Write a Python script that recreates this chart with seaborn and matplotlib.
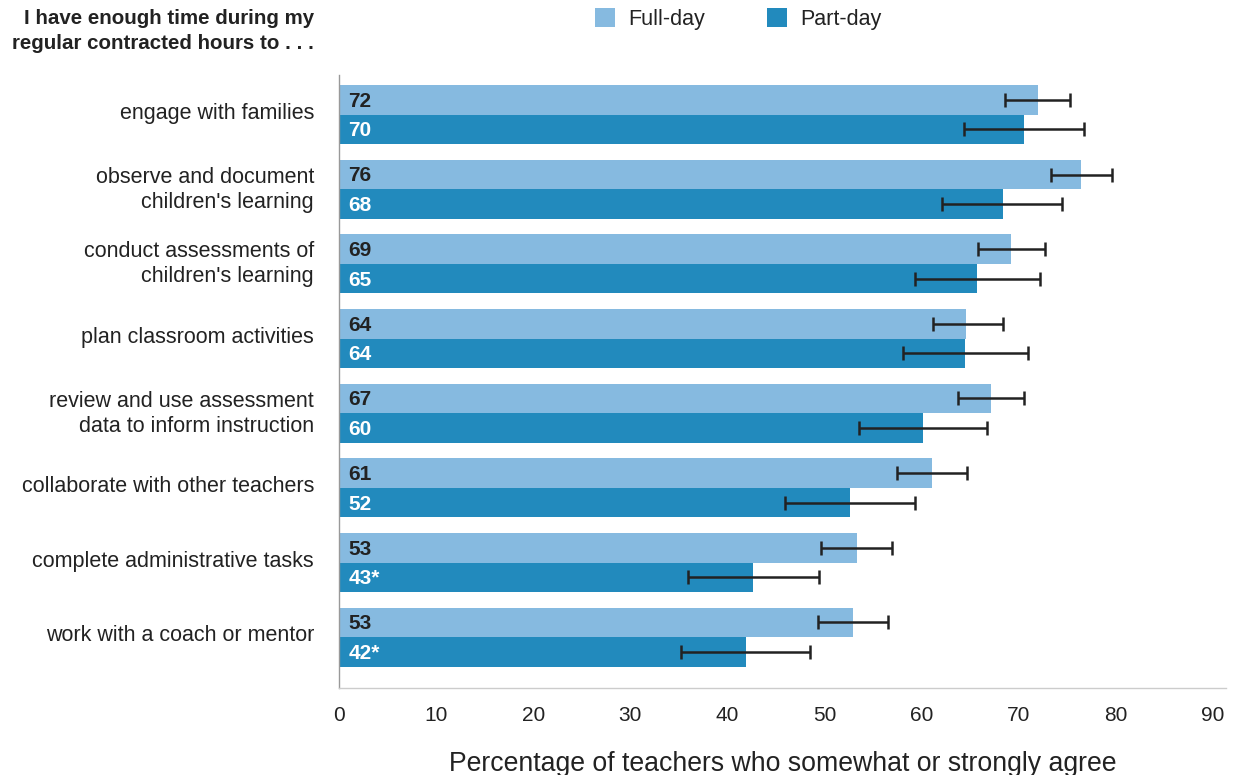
import matplotlib
matplotlib.use("Agg")
import matplotlib.pyplot as plt
import matplotlib.transforms as mtransforms
import seaborn as sns
import pandas as pd
import numpy as np
from matplotlib.patches import Patch

categories = [
    "engage with families",
    "observe and document\nchildren's learning",
    "conduct assessments of\nchildren's learning",
    "plan classroom activities",
    "review and use assessment\ndata to inform instruction",
    "collaborate with other teachers",
    "complete administrative tasks",
    "work with a coach or mentor",
]
series = ["Full-day", "Part-day"]
full_day = [72.0, 76.4, 69.2, 64.6, 67.1, 61.1, 53.3, 52.9]
part_day = [70.5, 68.4, 65.7, 64.5, 60.1, 52.6, 42.6, 41.9]
full_lo = [68.6, 73.3, 65.8, 61.2, 63.7, 57.5, 49.6, 49.3]
full_hi = [75.3, 79.6, 72.7, 68.4, 70.5, 64.7, 56.9, 56.5]
part_lo = [64.4, 62.1, 59.3, 58.1, 53.5, 45.9, 35.9, 35.2]
part_hi = [76.7, 74.5, 72.2, 71.0, 66.7, 59.3, 49.4, 48.5]
full_labels = ["72", "76", "69", "64", "67", "61", "53", "53"]
part_labels = ["70", "68", "65", "64", "60", "52", "43*", "42*"]
x_ticks = [0, 10, 20, 30, 40, 50, 60, 70, 80, 90]

colors = {"Full-day": "#86BAE0", "Part-day": "#228ABD"}

df = pd.DataFrame({
    "category": categories * 2,
    "group": ["Full-day"] * len(categories) + ["Part-day"] * len(categories),
    "value": full_day + part_day,
})

sns.set_theme(style="white")
plt.rcParams["font.family"] = ["Liberation Sans", "DejaVu Sans"]

fig = plt.figure(figsize=(12.35, 7.75), dpi=100)
ax = fig.add_axes([0.2745, 0.1123, 0.7182, 0.7909])

sns.barplot(data=df, y="category", x="value", hue="group", order=categories,
            hue_order=series, palette=colors, orient="h", width=0.79,
            saturation=1, errorbar=None, linewidth=0, legend=False, ax=ax)

lows = [full_lo, part_lo]
highs = [full_hi, part_hi]
vals = [full_day, part_day]
labels = [full_labels, part_labels]
txt_colors = ["#222222", "white"]
bar_containers = list(ax.containers)
for ci, cont in enumerate(bar_containers):
    ys = [p.get_y() + p.get_height() / 2 for p in cont.patches]
    v = np.array(vals[ci])
    lo = v - np.array(lows[ci])
    hi = np.array(highs[ci]) - v
    ax.errorbar(v, ys, xerr=[lo, hi], fmt="none", ecolor="#222222",
                elinewidth=1.8, capsize=5, capthick=1.8, zorder=5)
    for y, lab in zip(ys, labels[ci]):
        ax.text(0.95, y + 0.02, lab, ha="left", va="center", fontsize=15,
                color=txt_colors[ci], fontweight="semibold")

ax.set_xlim(0, 91.34)
ax.set_ylim(7.68, -0.53)
ax.set_xticks(x_ticks)
ax.set_xticklabels([str(t) for t in x_ticks], fontsize=15, color="#222222")
ax.tick_params(axis="x", length=0, pad=13)
ax.tick_params(axis="y", length=0, pad=18, labelsize=15.5, labelcolor="#222222")
shift_up = mtransforms.ScaledTranslation(0, 4 / 100, fig.dpi_scale_trans)
for lab in ax.get_yticklabels():
    lab.set_horizontalalignment("right")
    lab.set_multialignment("right")
    lab.set_linespacing(1.25)
    lab.set_transform(lab.get_transform() + shift_up)
ax.set_ylabel("")
ax.set_xlabel("Percentage of teachers who somewhat or strongly agree",
              fontsize=19.2, color="#222222")
ax.xaxis.set_label_coords(0.5, -(751 - 688) / 613)
for s in ["top", "right"]:
    ax.spines[s].set_visible(False)
ax.spines["left"].set_color("#999999")
ax.spines["left"].set_linewidth(1)
ax.spines["bottom"].set_color("#cccccc")
ax.spines["bottom"].set_linewidth(1)

fig.text(314 / 1235, 1 - 31 / 775, "I have enough time during my\nregular contracted hours to . . .",
         ha="right", va="center", multialignment="right", fontsize=14.8,
         color="#222222", fontweight="semibold", linespacing=1.45)

handles = [Patch(facecolor=colors[s], edgecolor="none", label=s) for s in series]
fig.legend(handles=handles, loc="center", bbox_to_anchor=(738 / 1235, 1 - 19 / 775),
           ncol=2, frameon=False, fontsize=15.5, handlelength=0.93, handleheight=0.93,
           handletextpad=0.6, columnspacing=2.9, labelcolor="#222222")

fig.savefig("out.png", dpi=100)
